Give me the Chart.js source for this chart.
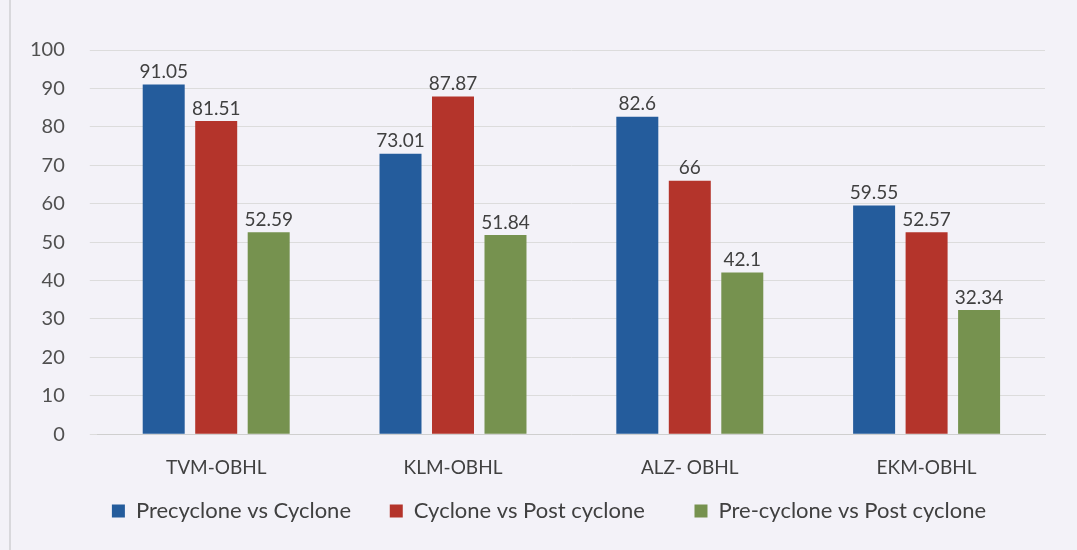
<!DOCTYPE html>
<html>
<head>
<meta charset="utf-8">
<script src="https://cdn.jsdelivr.net/npm/chart.js@4"></script>
<style>
    html, body { margin: 0; padding: 0; background: #f3f2f8; }
    #wrap { width: 1077px; height: 550px; position: relative; }
    #edge { position: absolute; left: 9px; top: 0; width: 2px; height: 550px; background: #d8d8dc; }
</style>
</head>
<body>
<div id="wrap"><div id="edge"></div><canvas id="barChart"></canvas></div>
<script>
const categories = ['TVM-OBHL', 'KLM-OBHL', 'ALZ- OBHL', 'EKM-OBHL'];
const precycloneVsCyclone = [91.05, 73.01, 82.6, 59.55];
const cycloneVsPostCyclone = [81.51, 87.87, 66, 52.57];
const preVsPostCyclone = [52.59, 51.84, 42.1, 32.34];
const seriesNames = ['Precyclone vs Cyclone', 'Cyclone vs Post cyclone', 'Pre-cyclone vs Post cyclone'];

const fontFam = 'Lato, "Open Sans", sans-serif';
const legendGaps = ['\u2003  ', '\u2003\u2003 ', ''];

// draws the value above each bar
const barValues = {
    id: 'barValues',
    afterDatasetsDraw(chart) {
        const ctx = chart.ctx;
        ctx.save();
        ctx.font = '19px ' + fontFam;
        ctx.fillStyle = '#404040';
        ctx.textAlign = 'center';
        ctx.textBaseline = 'bottom';
        chart.data.datasets.forEach((ds, i) => {
            chart.getDatasetMeta(i).data.forEach((bar, j) => {
                ctx.fillText(String(ds.data[j]), bar.x, bar.y - 3);
            });
        });
        ctx.restore();
    }
};

// legend sits a bit right of centre (and slightly higher) in the original
const legendShift = {
    id: 'legendShift',
    afterLayout(chart) {
        chart.legend.left += 24;
        chart.legend.right += 24;
        chart.legend.top -= 4;
        chart.legend.bottom -= 4;
    }
};

new Chart(document.getElementById('barChart'), {
    type: 'bar',
    data: {
        labels: categories,
        datasets: [
            { label: seriesNames[0], data: precycloneVsCyclone, backgroundColor: '#245c9c' },
            { label: seriesNames[1], data: cycloneVsPostCyclone, backgroundColor: '#b4342b' },
            { label: seriesNames[2], data: preVsPostCyclone, backgroundColor: '#76924f' }
        ]
    },
    options: {
        responsive: true,
        maintainAspectRatio: false,
        animation: false,
        layout: { padding: { top: 50, right: 32, left: 5, bottom: 14 } },
        datasets: {
            bar: { categoryPercentage: 0.665, barPercentage: 0.8 }
        },
        plugins: {
            legend: {
                position: 'bottom',
                labels: {
                    boxWidth: 13,
                    boxHeight: 13,
                    padding: 11,
                    color: '#404040',
                    font: { family: fontFam, size: 22 },
                    // extra space after entries, like the original spacing
                    generateLabels(chart) {
                        const items = Chart.defaults.plugins.legend.labels.generateLabels(chart);
                        items.forEach((it, i) => { it.text = it.text + legendGaps[i]; });
                        return items;
                    }
                }
            },
            tooltip: { enabled: false }
        },
        scales: {
            x: {
                grid: { display: false },
                border: { color: '#cfcfcf' },
                ticks: { color: '#404040', padding: 14, font: { family: fontFam, size: 19 } }
            },
            y: {
                min: 0,
                max: 100,
                ticks: { stepSize: 10, color: '#505050', padding: 25, font: { family: fontFam, size: 20 } },
                grid: { color: '#dcdcdc' },
                border: { display: false }
            }
        }
    },
    plugins: [barValues, legendShift]
});
</script>
</body>
</html>
